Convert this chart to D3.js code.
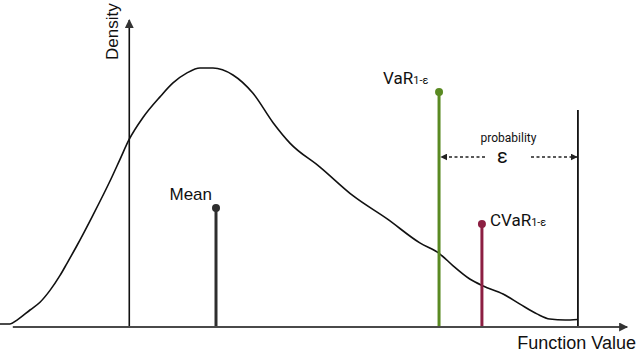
<!DOCTYPE html>
<html>
<head>
<meta charset="utf-8">
<script src="https://cdn.jsdelivr.net/npm/d3@7"></script>
<style>
  html, body { margin: 0; padding: 0; background: #fff; }
  text { font-family: Roboto, "Liberation Sans", sans-serif; }
  .sans { font-family: "Liberation Sans", Arial, sans-serif; }
</style>
</head>
<body>
<div id="chart"></div>
<script>
// Density curve (function value, density)
let curveX = [0, 1.56, 2.66, 4.69, 6.25, 7.81, 9.38, 10.47, 12.03, 14.53, 17.19, 18.75, 20.16, 22.34, 25.0, 27.03,
    29.22, 31.25, 33.28, 36.4, 39.5, 42.7, 45.3, 50.0, 55.2, 60.5, 65.6, 68.75, 70.8, 73.4, 75.5, 78.6, 81.25,
    83.9, 85.9, 88.3, 90.2];
let curveY = [0.008, 0.008, 0.023, 0.062, 0.092, 0.138, 0.196, 0.243, 0.312, 0.430, 0.562, 0.646, 0.722, 0.808, 0.888, 0.942,
    0.981, 1.0, 1.0, 0.973, 0.903, 0.787, 0.709, 0.616, 0.504, 0.415, 0.322, 0.279, 0.233, 0.182, 0.155, 0.124, 0.085,
    0.047, 0.027, 0.023, 0.025];

// Marker stems
let markerNames = ["Mean", "VaR", "CVaR"];
let markerX = [33.75, 68.6, 75.3];
let markerY = [0.457, 0.907, 0.395];
let markerColors = ["#2e2e2e", "#5a8a22", "#8c1f42"];

// Tail boundary
let tailX = 90.3;
let tailTop = 0.837;

let width = 640, height = 352;

let svg = d3.select("#chart")
    .append("svg")
    .attr("width", width)
    .attr("height", height);

let xScale = d3.scaleLinear().domain([0, 100]).range([0, 640]);
let yScale = d3.scaleLinear().domain([0, 1]).range([326, 68]);

let defs = svg.append("defs");
function arrowMarker(id, color, size) {
    defs.append("marker")
        .attr("id", id)
        .attr("viewBox", "0 0 10 10")
        .attr("refX", 9).attr("refY", 5)
        .attr("markerWidth", size).attr("markerHeight", size)
        .attr("markerUnits", "userSpaceOnUse")
        .attr("orient", "auto-start-reverse")
        .append("path")
        .attr("d", "M0,0 L10,5 L0,10 z")
        .attr("fill", color);
}
arrowMarker("arrAxis", "#333", 9);
arrowMarker("arrDash", "#222", 7);

/* Axes */
svg.append("line")
    .attr("x1", xScale(2.0)).attr("x2", xScale(98))
    .attr("y1", yScale(0) + 1).attr("y2", yScale(0) + 1)
    .attr("stroke", "#4a4a4a")
    .attr("stroke-width", 2)
    .attr("marker-end", "url(#arrAxis)");

svg.append("line")
    .attr("x1", xScale(20.2)).attr("x2", xScale(20.2))
    .attr("y1", yScale(0)).attr("y2", yScale(1.186))
    .attr("stroke", "#111")
    .attr("stroke-width", 1.6)
    .attr("marker-end", "url(#arrAxis)");

svg.append("text")
    .attr("class", "sans")
    .attr("transform", `translate(${xScale(20.2) - 11}, 60) rotate(-90)`)
    .attr("text-anchor", "start")
    .attr("font-size", 17)
    .attr("fill", "#111")
    .text("Density");

svg.append("text")
    .attr("class", "sans")
    .attr("x", 636).attr("y", 349)
    .attr("text-anchor", "end")
    .attr("font-size", 18)
    .attr("fill", "#111")
    .text("Function Value");

/* Density curve */
let data = curveX.map((x, i) => [x, curveY[i]]);
let line = d3.line()
    .x(d => xScale(d[0]))
    .y(d => yScale(d[1]))
    .curve(d3.curveMonotoneX);

svg.append("path")
    .datum(data)
    .attr("d", line)
    .attr("fill", "none")
    .attr("stroke", "#111")
    .attr("stroke-width", 1.6);

/* Tail boundary */
svg.append("line")
    .attr("x1", xScale(tailX)).attr("x2", xScale(tailX))
    .attr("y1", yScale(0)).attr("y2", yScale(tailTop))
    .attr("stroke", "#111")
    .attr("stroke-width", 1.8);

/* Stems */
markerNames.forEach((name, i) => {
    let x = xScale(markerX[i]);
    let y = yScale(markerY[i]);
    svg.append("line")
        .attr("x1", x).attr("x2", x)
        .attr("y1", yScale(0)).attr("y2", y)
        .attr("stroke", markerColors[i])
        .attr("stroke-width", 3);
    svg.append("circle")
        .attr("cx", x).attr("cy", y)
        .attr("r", 4)
        .attr("fill", markerColors[i]);
});

// Labels
svg.append("text")
    .attr("class", "sans")
    .attr("x", xScale(markerX[0]) - 4).attr("y", yScale(markerY[0]) - 8)
    .attr("text-anchor", "end")
    .attr("font-size", 17)
    .attr("fill", "#111")
    .text("Mean");

let varLabel = svg.append("text")
    .attr("x", xScale(markerX[1]) - 56).attr("y", yScale(markerY[1]) - 8)
    .attr("font-size", 17)
    .attr("fill", "#111");
varLabel.append("tspan").text("VaR");
varLabel.append("tspan").attr("font-size", 11).text("1-ε");

let cvarLabel = svg.append("text")
    .attr("x", xScale(markerX[2]) + 8).attr("y", yScale(markerY[2]) + 2)
    .attr("font-size", 17)
    .attr("fill", "#111");
cvarLabel.append("tspan").text("CVaR");
cvarLabel.append("tspan").attr("font-size", 11).text("1-ε");

/* Probability annotation */
let midX = (xScale(markerX[1]) + xScale(tailX)) / 2;
svg.append("text")
    .attr("x", midX).attr("y", 142)
    .attr("text-anchor", "middle")
    .attr("font-size", 12)
    .attr("fill", "#111")
    .text("probability");

svg.append("text")
    .attr("x", midX - 6).attr("y", 163)
    .attr("text-anchor", "middle")
    .attr("font-size", 20)
    .attr("fill", "#111")
    .text("ε");

svg.append("line")
    .attr("x1", 485).attr("x2", xScale(markerX[1]) + 2)
    .attr("y1", 157).attr("y2", 157)
    .attr("stroke", "#222")
    .attr("stroke-width", 1.5)
    .attr("stroke-dasharray", "3,2.5")
    .attr("marker-end", "url(#arrDash)");

svg.append("line")
    .attr("x1", 531).attr("x2", xScale(tailX) - 1)
    .attr("y1", 157).attr("y2", 157)
    .attr("stroke", "#222")
    .attr("stroke-width", 1.5)
    .attr("stroke-dasharray", "3,2.5")
    .attr("marker-end", "url(#arrDash)");
</script>
</body>
</html>
